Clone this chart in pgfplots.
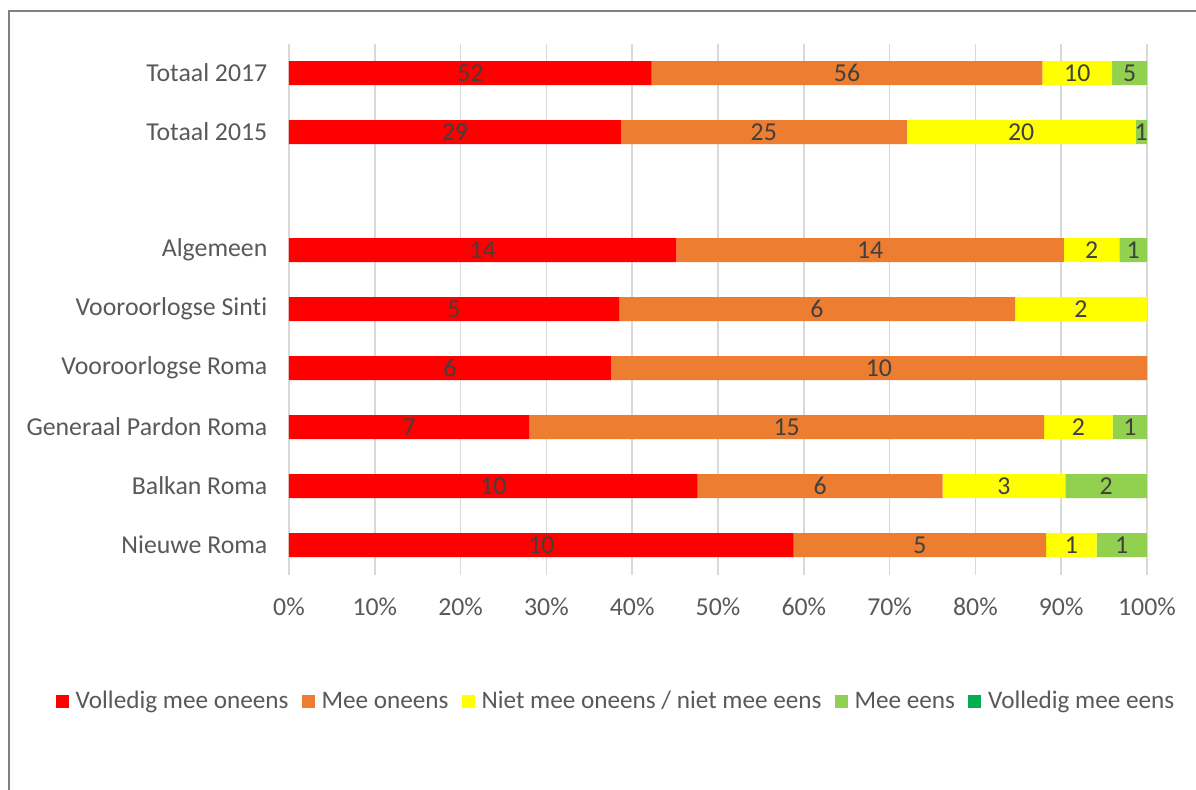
\documentclass[border=0pt]{standalone}
\usepackage{pgfplots}
\usepackage{pgfplotstable}
\pgfplotsset{compat=1.18}
\usepackage{fontspec}
\setmainfont[Ligatures={NoCommon}]{Carlito}
\definecolor{cRed}{HTML}{FF0000}
\definecolor{cOrange}{HTML}{ED7D31}
\definecolor{cYellow}{HTML}{FFFF00}
\definecolor{cLGreen}{HTML}{92D050}
\definecolor{cDGreen}{HTML}{00B050}
\definecolor{txtgray}{HTML}{595959}
\definecolor{lblgray}{HTML}{404040}
\definecolor{gridgray}{HTML}{D9D9D9}
\definecolor{framegray}{HTML}{808080}

\pgfplotstableread{
y a b c d e
8 52 56 10 5 0
7 29 25 20 1 0
5 14 14 2 1 0
4 5 6 2 0 0
3 6 10 0 0 0
2 7 15 2 1 0
1 10 6 3 2 0
0 10 5 1 1 0
}\datatable

\newcommand{\tot}{(\thisrow{a}+\thisrow{b}+\thisrow{c}+\thisrow{d}+\thisrow{e})}

\pgfplotsset{
  common/.style={
    at={(144.5pt,107.25pt)}, anchor=south west,
    scale only axis, width=429pt, height=265.5pt,
    xmin=0, xmax=100, ymin=-0.5, ymax=8.5,
  },
  seglabel/.style={
    draw=none, mark=none, forget plot,
    point meta=explicit symbolic,
    nodes near coords={\ifnum\pgfplotspointmeta=0 \else\pgfplotspointmeta\fi},
    every node near coord/.append style={anchor=center, text=lblgray, inner sep=0pt},
  },
}

\begin{document}
\begin{tikzpicture}[font=\fontsize{12.9}{15.5}\selectfont]
\useasboundingbox (0,0) rectangle (598pt,394.5pt);
\fill[white] (0,0) rectangle (598pt,394.5pt);
\draw[framegray, line width=1pt] (4.25pt,-2pt) -- (4.25pt,389pt) -- (600pt,389pt);

\begin{axis}[common,
  xbar stacked, bar width=12pt,
  axis line style={draw=none},
  major tick length=0pt,
  xmajorgrids, grid style={gridgray, line width=0.8pt},
  xtick={0,10,...,100},
  /pgf/number format/assume math mode=true,
  xticklabel={\pgfmathprintnumber{\tick}\%},
  xticklabel style={text=txtgray, yshift=-8pt},
  ytick={0,1,2,3,4,5,7,8},
  yticklabels={Nieuwe Roma, Balkan Roma, Generaal Pardon Roma, Vooroorlogse Roma, Vooroorlogse Sinti, Algemeen, Totaal 2015, Totaal 2017},
  yticklabel style={text=txtgray, xshift=-7.3pt},
  legend style={at={(0.3823,-0.242)}, anchor=center, draw=none, fill=none,
    legend columns=-1, text=txtgray,
    font=\fontsize{12.6}{15}\selectfont,
    nodes={text height=1.55ex, text depth=0.45ex},
    /tikz/every odd column/.append style={column sep=1.5pt},
    /tikz/every even column/.append style={column sep=4.5pt}},
  legend image code/.code={\fill[#1] (0pt,-2.6pt) rectangle (6.5pt,3.9pt);},
]
\addplot[fill=cRed, draw=none] table[x expr={100*\thisrow{a}/\tot}, y=y]{\datatable};
\addlegendentry{Volledig mee oneens}
\addplot[fill=cOrange, draw=none] table[x expr={100*\thisrow{b}/\tot}, y=y]{\datatable};
\addlegendentry{Mee oneens}
\addplot[fill=cYellow, draw=none] table[x expr={100*\thisrow{c}/\tot}, y=y]{\datatable};
\addlegendentry{Niet mee oneens / niet mee eens}
\addplot[fill=cLGreen, draw=none] table[x expr={100*\thisrow{d}/\tot}, y=y]{\datatable};
\addlegendentry{Mee eens}
\addplot[fill=cDGreen, draw=none] table[x expr={100*\thisrow{e}/\tot}, y=y]{\datatable};
\addlegendentry{Volledig mee eens}
\end{axis}

\begin{axis}[common, hide axis]
\addplot[seglabel] table[x expr={50*\thisrow{a}/\tot}, y=y, meta=a]{\datatable};
\addplot[seglabel] table[x expr={100*(\thisrow{a}+0.5*\thisrow{b})/\tot}, y=y, meta=b]{\datatable};
\addplot[seglabel] table[x expr={100*(\thisrow{a}+\thisrow{b}+0.5*\thisrow{c})/\tot}, y=y, meta=c]{\datatable};
\addplot[seglabel] table[x expr={100*(\thisrow{a}+\thisrow{b}+\thisrow{c}+0.5*\thisrow{d})/\tot}, y=y, meta=d]{\datatable};
\addplot[seglabel] table[x expr={100*(\thisrow{a}+\thisrow{b}+\thisrow{c}+\thisrow{d}+0.5*\thisrow{e})/\tot}, y=y, meta=e]{\datatable};
\end{axis}
\end{tikzpicture}
\end{document}
